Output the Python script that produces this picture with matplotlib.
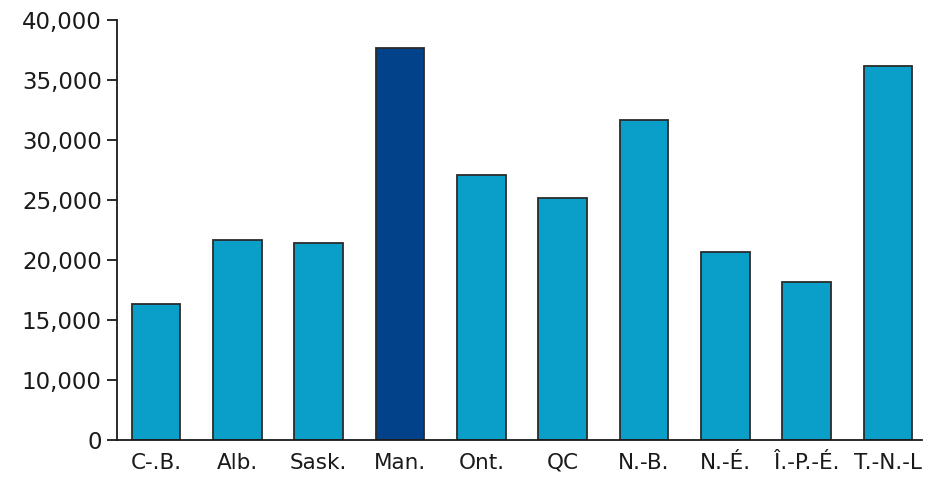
import matplotlib.pyplot as plt

# provinces and values (axis is cut: bottom of the axis is 5,000 labelled "0")
provinces = ['C-.B.', 'Alb.', 'Sask.', 'Man.', 'Ont.', 'QC', 'N.-B.', 'N.-É.', 'Î.-P.-É.', 'T.-N.-L']
values = [16300, 21700, 21400, 37700, 27100, 25200, 31700, 20700, 18200, 36200]
highlight = 'Man.'

y_ticks = [5000, 10000, 15000, 20000, 25000, 30000, 35000, 40000]
y_tick_labels = ['0', '10,000', '15,000', '20,000', '25,000', '30,000', '35,000', '40,000']

light = '#0a9fc9'
dark = '#02428a'
colors = [dark if p == highlight else light for p in provinces]

fig = plt.figure(figsize=(9.4, 4.84), dpi=100)
ax = fig.add_axes([0.1245, 0.0909, 0.8565, 0.8678])

x = range(len(provinces))
ax.bar(x, [v - 5000 for v in values], bottom=5000, width=0.6, color=colors,
       edgecolor='#2b2b2b', linewidth=1.3)

ax.set_xlim(-0.48, 9.42)
ax.set_ylim(5000, 40000)
ax.set_yticks(y_ticks)
ax.set_yticklabels(y_tick_labels, fontsize=16.5, color='#1a1a1a')
ax.set_xticks(list(x))
ax.set_xticklabels(provinces, fontsize=15.5, color='#1a1a1a')

for s in ['top', 'right']:
    ax.spines[s].set_visible(False)
for s in ['left', 'bottom']:
    ax.spines[s].set_linewidth(1.3)
    ax.spines[s].set_color('#1a1a1a')

ax.tick_params(axis='y', length=7, width=1.3, pad=4, color='#1a1a1a')
ax.tick_params(axis='x', length=0, pad=9)

plt.savefig('out.png', dpi=100, facecolor='white')
